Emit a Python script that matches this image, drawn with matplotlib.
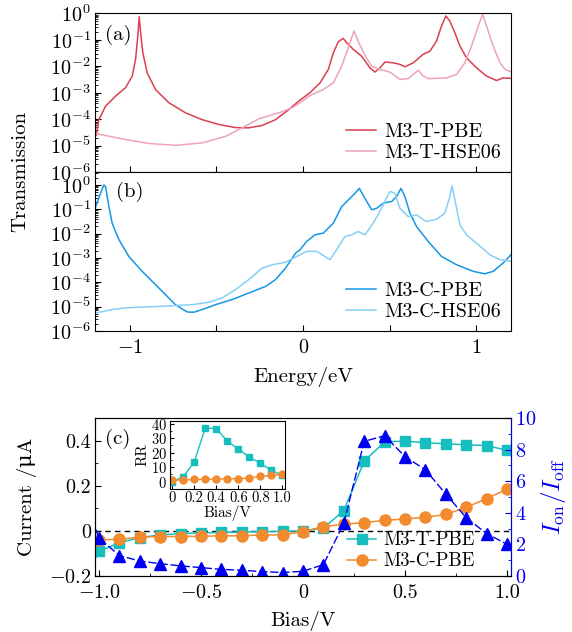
import matplotlib
matplotlib.use("Agg")
import numpy as np
import matplotlib.pyplot as plt
from matplotlib.ticker import MultipleLocator, LogLocator, NullFormatter

plt.rcParams["font.family"] = "serif"
plt.rcParams["font.serif"] = ["cmr10", "DejaVu Serif"]
plt.rcParams["mathtext.fontset"] = "cm"
plt.rcParams["axes.formatter.use_mathtext"] = True
plt.rcParams["axes.unicode_minus"] = True
plt.rcParams["font.size"] = 15

# ----------------- panel (a): M3-T, log10 transmission -----------------
t_pbe_e = [-1.193, -1.178, -1.139, -1.081, -1.024, -0.985, -0.966, -0.953, -0.945, -0.935,
           -0.924, -0.899, -0.851, -0.774, -0.678, -0.582, -0.486, -0.390, -0.313, -0.236,
           -0.159, -0.082, -0.025, 0.040, 0.098, 0.146, 0.175, 0.204, 0.232, 0.252,
           0.290, 0.338, 0.386, 0.415, 0.444, 0.473, 0.520, 0.559, 0.588, 0.636,
           0.693, 0.732, 0.770, 0.799, 0.824, 0.847, 0.876, 0.905, 0.943, 1.001,
           1.058, 1.116, 1.154, 1.200]
t_pbe_log = [-4.62, -4.02, -3.51, -3.13, -2.81, -2.37, -1.74, -0.86, -0.13, -0.86,
             -1.49, -2.25, -2.88, -3.38, -3.76, -4.02, -4.20, -4.32, -4.33, -4.24,
             -4.02, -3.64, -3.32, -3.00, -2.63, -2.12, -1.49, -1.07, -0.95, -1.11,
             -1.36, -1.62, -2.06, -2.22, -2.06, -1.84, -1.87, -1.93, -2.02, -1.87,
             -1.55, -1.43, -1.05, -0.48, -0.10, -0.29, -0.73, -1.24, -1.68, -2.06,
             -2.37, -2.54, -2.44, -2.46]

t_hse_e = [-1.193, -1.024, -0.889, -0.735, -0.582, -0.447, -0.351, -0.255, -0.139, -0.063,
           -0.017, 0.040, 0.117, 0.175, 0.223, 0.261, 0.294, 0.319, 0.357, 0.396,
           0.444, 0.501, 0.559, 0.607, 0.636, 0.665, 0.693, 0.722, 0.828, 0.886,
           0.934, 0.972, 1.011, 1.036, 1.059, 1.097, 1.136, 1.165, 1.200]
t_hse_log = [-4.55, -4.77, -4.92, -4.99, -4.90, -4.65, -4.33, -3.99, -3.76, -3.57,
             -3.38, -3.11, -2.88, -2.63, -2.00, -1.30, -0.67, -1.07, -1.58, -2.00,
             -2.12, -2.22, -2.50, -2.47, -2.31, -2.15, -2.37, -2.47, -2.44, -2.31,
             -1.87, -1.24, -0.48, -0.04, -0.48, -1.24, -1.87, -2.12, -2.21]

# ----------------- panel (b): M3-C, log10 transmission -----------------
c_pbe_e = [-1.197, -1.168, -1.149, -1.139, -1.120, -1.101, -1.062, -1.005, -0.928, -0.832,
           -0.736, -0.668, -0.630, -0.582, -0.505, -0.409, -0.313, -0.216, -0.159, -0.101,
           -0.043, -0.017, 0.021, 0.069, 0.117, 0.175, 0.223, 0.271, 0.300, 0.325,
           0.357, 0.396, 0.425, 0.463, 0.511, 0.540, 0.565, 0.588, 0.617, 0.655,
           0.722, 0.799, 0.886, 0.982, 1.049, 1.097, 1.154, 1.200]
c_pbe_log = [-0.91, -0.34, 0.00, -0.07, -0.89, -1.57, -2.25, -2.94, -3.55, -4.23,
             -4.92, -5.22, -5.23, -5.12, -4.92, -4.71, -4.44, -4.17, -3.89, -3.42,
             -2.80, -2.66, -2.32, -2.05, -1.98, -1.57, -0.89, -0.55, -0.34, -0.14,
             -0.55, -1.02, -0.96, -0.75, -0.68, -0.48, -0.14, -0.48, -1.16, -1.71,
             -2.32, -2.94, -3.28, -3.55, -3.65, -3.55, -3.21, -2.87]

c_hse_e = [-1.197, -1.101, -1.024, -0.832, -0.640, -0.543, -0.466, -0.390, -0.313, -0.236,
           -0.178, -0.101, -0.043, 0.021, 0.079, 0.156, 0.194, 0.242, 0.281, 0.319,
           0.357, 0.405, 0.453, 0.501, 0.530, 0.559, 0.607, 0.655, 0.709, 0.770,
           0.818, 0.847, 0.860, 0.876, 0.905, 0.943, 1.001, 1.078, 1.136, 1.200]
c_hse_log = [-5.26, -5.12, -5.05, -4.99, -4.92, -4.82, -4.64, -4.30, -3.89, -3.42,
             -3.28, -3.18, -2.96, -2.73, -2.73, -3.07, -2.66, -2.12, -2.05, -1.91,
             -2.05, -1.57, -0.96, -0.27, -0.34, -0.96, -1.30, -1.23, -1.50, -1.41,
             -1.16, -0.48, -0.04, -0.61, -1.64, -2.05, -2.39, -2.87, -3.07, -3.14]

# ----------------- panel (c): I-V and on/off ratio -----------------
bias = [-1.1, -1.0, -0.9, -0.8, -0.7, -0.6, -0.5, -0.4, -0.3, -0.2, -0.1,
        0.0, 0.1, 0.2, 0.3, 0.4, 0.5, 0.6, 0.7, 0.8, 0.9, 1.0]
cur_t = [-0.26, -0.091, -0.052, -0.030, -0.018, -0.012, -0.009, -0.007, -0.005, -0.004, -0.002,
         0.0, 0.012, 0.090, 0.309, 0.394, 0.398, 0.390, 0.386, 0.381, 0.378, 0.357]
cur_c = [-0.042, -0.040, -0.037, -0.028, -0.025, -0.025, -0.024, -0.022, -0.022, -0.018, -0.018,
         -0.003, 0.019, 0.029, 0.037, 0.046, 0.053, 0.060, 0.073, 0.104, 0.143, 0.184]
on_off = [5.6, 2.4, 1.29, 0.95, 0.78, 0.64, 0.53, 0.42, 0.36, 0.28, 0.22,
          0.30, 0.72, 3.33, 8.52, 8.88, 7.56, 6.72, 5.19, 3.69, 2.69, 2.01]

rr_bias = [0.0, 0.1, 0.2, 0.3, 0.4, 0.5, 0.6, 0.7, 0.8, 0.9, 1.0]
rr_t = [0.0, 3.4, 13.5, 37.0, 36.6, 28.0, 22.5, 17.0, 12.6, 8.0, 4.3]
rr_c = [1.1, 1.1, 1.6, 1.6, 1.8, 2.0, 2.1, 2.5, 3.7, 4.3, 5.0]

RED, PINK = "#d9404f", "#eea3bb"
BLUE, LBLUE = "#1597e5", "#86cff6"
CYAN, ORANGE, TRI = "#17bebe", "#f28a2e", "#0000f0"
TICK_FS, LAB_FS, LEG_FS = 14.5, 15, 14.5

fig = plt.figure(figsize=(5.72, 6.32), dpi=100)
L, W = 0.1661, 0.7273
ax_a = fig.add_axes([L, 0.7278, W, 0.2511])
ax_b = fig.add_axes([L, 0.4763, W, 0.2515])
ax_c = fig.add_axes([L, 0.0886, W, 0.2500])


def style_log(ax, top):
    ax.set_yscale("log")
    ax.set_xlim(-1.2, 1.2)
    ax.set_ylim(1e-6, top)
    ax.set_yticks([10.0 ** k for k in range(-6, 1)])
    ax.yaxis.set_minor_locator(LogLocator(base=10, subs=np.arange(2, 10), numticks=20))
    ax.yaxis.set_minor_formatter(NullFormatter())
    ax.set_xticks([-1, -0.5, 0, 0.5, 1])
    ax.tick_params(which="both", direction="in", labelsize=TICK_FS, pad=3)
    ax.tick_params(axis="x", pad=6)
    ax.tick_params(which="major", length=4)
    ax.tick_params(which="minor", length=2)


ax_a.plot(t_pbe_e, 10.0 ** np.array(t_pbe_log), color=RED, lw=1.1, label="M3-T-PBE")
ax_a.plot(t_hse_e, 10.0 ** np.array(t_hse_log), color=PINK, lw=1.1, label="M3-T-HSE06")
style_log(ax_a, 1.0)
ax_a.set_xticklabels([])
ax_a.text(0.025, 0.93, "(a)", transform=ax_a.transAxes, fontsize=LAB_FS, va="top")
ax_a.legend(loc="lower right", frameon=False, handlelength=1.5, handletextpad=0.4,
            fontsize=LEG_FS, borderaxespad=0.1, labelspacing=0.15)

ax_b.plot(c_pbe_e, 10.0 ** np.array(c_pbe_log), color=BLUE, lw=1.1, label="M3-C-PBE")
ax_b.plot(c_hse_e, 10.0 ** np.array(c_hse_log), color=LBLUE, lw=1.1, label="M3-C-HSE06")
style_log(ax_b, 10 ** 0.53)
ax_b.set_xticklabels(["$-1$", "", "0", "", "1"])
ax_b.text(0.05, 0.94, "(b)", transform=ax_b.transAxes, fontsize=LAB_FS, va="top")
ax_b.legend(loc="lower right", frameon=False, handlelength=1.5, handletextpad=0.4,
            fontsize=LEG_FS, borderaxespad=0.1, labelspacing=0.15)
ax_b.set_xlabel("Energy/eV", fontsize=LAB_FS, labelpad=7)
fig.text(0.036, 0.728, "Transmission", rotation=90, ha="center", va="center", fontsize=LAB_FS)

# panel (c)
ax_c.axhline(0, color="black", ls=(0, (4, 3)), lw=1.0)
ax_c.plot(bias, cur_t, color=CYAN, marker="s", ms=7, lw=1.1, label="M3-T-PBE")
ax_c.plot(bias, cur_c, color=ORANGE, marker="o", ms=8, lw=1.1, label="M3-C-PBE")
ax_c.set_xlim(-1.02, 1.02)
ax_c.set_ylim(-0.2, 0.5)
ax_c.set_xticks([-1.0, -0.5, 0, 0.5, 1.0])
ax_c.set_xticklabels(["$-1.0$", "$-0.5$", "0", "0.5", "1.0"])
ax_c.xaxis.set_minor_locator(MultipleLocator(0.25))
ax_c.set_yticks([-0.2, 0, 0.2, 0.4])
ax_c.set_yticklabels(["$-0.2$", "0", "0.2", "0.4"])
ax_c.yaxis.set_minor_locator(MultipleLocator(0.1))
ax_c.tick_params(which="both", direction="in", labelsize=TICK_FS, pad=3)
ax_c.tick_params(axis="x", pad=6)
ax_c.tick_params(which="major", length=4)
ax_c.tick_params(which="minor", length=2)
ax_c.set_xlabel("Bias/V", fontsize=LAB_FS, labelpad=6)
ax_c.set_ylabel("Current /μA", fontsize=LAB_FS, family=["cmr10", "DejaVu Serif"], labelpad=8)
ax_c.text(0.025, 0.93, "(c)", transform=ax_c.transAxes, fontsize=LAB_FS, va="top")
ax_c.legend(loc="lower right", bbox_to_anchor=(0.93, -0.01), frameon=False,
            handlelength=1.55, handletextpad=0.35, fontsize=13.5, labelspacing=0.15,
            borderaxespad=0.0)

ax_r = ax_c.twinx()
ax_r.plot(bias, on_off, color=TRI, marker="^", ms=8, lw=1.0, ls=(0, (6, 2)))
ax_r.set_ylim(0, 10)
ax_r.set_yticks([0, 2, 4, 6, 8, 10])
ax_r.yaxis.set_minor_locator(MultipleLocator(1))
ax_r.tick_params(which="both", direction="in", colors=TRI, labelsize=TICK_FS, pad=3)
ax_r.tick_params(which="major", length=4)
ax_r.tick_params(which="minor", length=2)
ax_r.spines["right"].set_color(TRI)
ax_r.set_ylabel(r"$I_{\rm on}/I_{\rm off}$", color=TRI, fontsize=18, labelpad=2)

# inset RR
ax_i = fig.add_axes([0.2972, 0.2263, 0.2002, 0.108])
ax_i.plot(rr_bias, rr_t, color=CYAN, marker="s", ms=5, lw=1.0)
ax_i.plot(rr_bias, rr_c, color=ORANGE, marker="o", ms=5, lw=1.0)
ax_i.set_xlim(-0.02, 1.02)
ax_i.set_ylim(-5, 42)
ax_i.set_xticks([0, 0.2, 0.4, 0.6, 0.8, 1.0])
ax_i.set_xticklabels(["0", "0.2", "0.4", "0.6", "0.8", "1.0"])
ax_i.set_yticks([0, 10, 20, 30, 40])
ax_i.yaxis.set_minor_locator(MultipleLocator(5))
ax_i.tick_params(which="both", direction="in", labelsize=10.5, pad=2)
ax_i.tick_params(which="major", length=3)
ax_i.tick_params(which="minor", length=1.5)
ax_i.set_xlabel("Bias/V", fontsize=11, labelpad=0)
ax_i.set_ylabel("RR", fontsize=11, labelpad=1)

fig.savefig("out.png", dpi=100)
